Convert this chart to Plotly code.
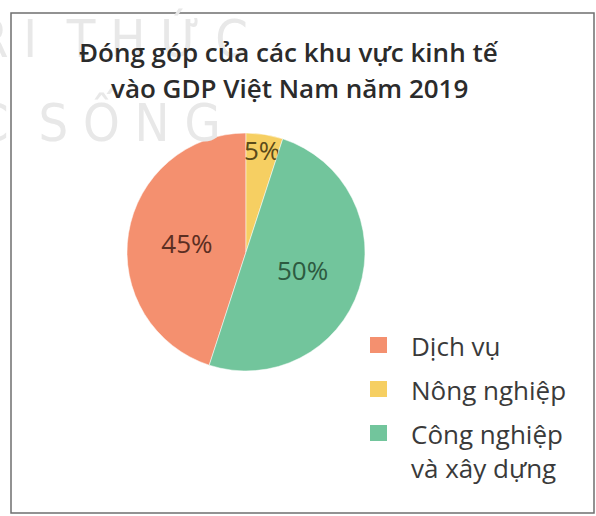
import plotly.graph_objects as go

# ---- data ----
LABELS = ["Dịch vụ", "Nông nghiệp", "Công nghiệp<br>và xây dựng"]
VALUES = [45, 5, 50]
COLORS = ["#F4906F", "#F6CF62", "#72C59C"]
TEXT_COLORS = ["#5b2e22", "#5a4a1a", "#2d5a40"]
TITLE_LINES = ["Đóng góp của các khu vực kinh tế", "vào GDP Việt Nam năm 2019"]
WATERMARK = ["R I  T H Ứ C", "C  S Ố N G"]

W, H = 596, 516


def px(x):
    return x / W


def py(y):
    return 1 - y / H


fig = go.Figure(
    go.Pie(
        labels=LABELS,
        values=VALUES,
        sort=False,
        direction="clockwise",
        rotation=198,
        marker=dict(colors=COLORS, line=dict(color="white", width=0.5)),
        texttemplate="%{value}%",
        textposition="inside",
        insidetextorientation="horizontal",
        textfont=dict(family="Open Sans", size=26, color=TEXT_COLORS),
        domain=dict(x=[px(127), px(365)], y=[py(371), py(133)]),
        showlegend=False,
        hoverinfo="label+percent",
    )
)

annotations = []
# watermark (faint)
for i, t in enumerate(WATERMARK):
    annotations.append(dict(
        text=t, x=px(-26), y=py([38, 120][i]), xref="paper", yref="paper",
        xanchor="left", yanchor="middle", showarrow=False,
        font=dict(family="Liberation Sans Narrow, DejaVu Sans Condensed", size=52, color="#e8e8e8"),
    ))

# title
for i, t in enumerate(TITLE_LINES):
    annotations.append(dict(
        text=t, x=px(289), y=py(52 + 36 * i), xref="paper", yref="paper",
        xanchor="center", yanchor="middle", showarrow=False,
        font=dict(family="Open Sans", size=26, color="#2b2b2b", weight=600),
    ))

shapes = [dict(type="rect", xref="paper", yref="paper",
               x0=px(11), x1=px(594), y0=py(513), y1=py(13),
               line=dict(color="#6f6f6f", width=1.5), layer="below")]

# legend
for i, (lab, col) in enumerate(zip(LABELS, COLORS)):
    yc = 345 + 44 * i
    shapes.append(dict(type="rect", xref="paper", yref="paper",
                       x0=px(370), x1=px(387), y0=py(yc + 8), y1=py(yc - 8),
                       fillcolor=col, line=dict(width=0)))
    annotations.append(dict(
        text=lab, x=px(409), y=py(yc - 19), xref="paper", yref="paper",
        xanchor="left", yanchor="top", align="left", showarrow=False,
        font=dict(family="Open Sans", size=26, color="#3a3a3a"),
    ))

fig.update_layout(
    width=W, height=H,
    margin=dict(l=0, r=0, t=0, b=0),
    paper_bgcolor="white",
    plot_bgcolor="white",
    annotations=annotations,
    shapes=shapes,
    uniformtext=dict(minsize=26, mode="show"),
)

fig.write_html(
    "out.html",
    config={"displayModeBar": False},
    post_script="document.body.style.margin='0';document.body.style.overflow='hidden';",
)
